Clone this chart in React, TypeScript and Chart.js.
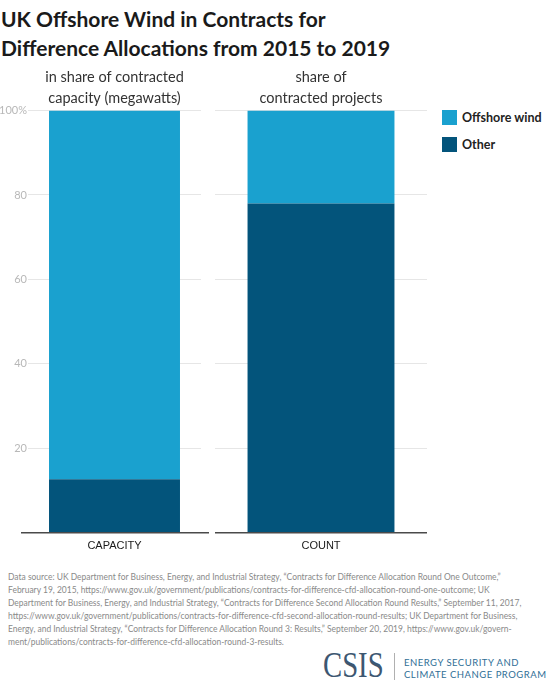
import React, { useEffect, useRef } from 'react';
import { Chart, registerables } from 'chart.js';

Chart.register(...registerables);

// data
const categories = ['CAPACITY', 'COUNT'];
const panelTitles = [
  ['in share of contracted', 'capacity (megawatts)'],
  ['share of', 'contracted projects'],
];
const otherShare = [12.7, 78];
const offshoreShare = [87.3, 22];
const seriesNames = ['Offshore wind', 'Other'];

const OFFSHORE = '#1aa1cf';
const OTHER = '#03547b';
const FONT = 'Lato, "Open Sans", sans-serif';

const footnote = [
  'Data source: UK Department for Business, Energy, and Industrial Strategy, \u201cContracts for Difference Allocation Round One Outcome,\u201d',
  'February 19, 2015, https://www.gov.uk/government/publications/contracts-for-difference-cfd-allocation-round-one-outcome; UK',
  'Department for Business, Energy, and Industrial Strategy, \u201cContracts for Difference Second Allocation Round Results,\u201d September 11, 2017,',
  'https://www.gov.uk/government/publications/contracts-for-difference-cfd-second-allocation-round-results; UK Department for Business,',
  'Energy, and Industrial Strategy, \u201cContracts for Difference Allocation Round 3: Results,\u201d September 20, 2019, https://www.gov.uk/govern-',
  'ment/publications/contracts-for-difference-cfd-allocation-round-3-results.',
];

interface PanelProps {
  index: number;
  showAxis: boolean;
  barPct: number;
  extendLeft: number;
  extendRight: number;
  padRight: number;
  style: React.CSSProperties;
}

function Panel(props: PanelProps) {
  const canvasRef = useRef<HTMLCanvasElement | null>(null);

  useEffect(() => {
    const canvas = canvasRef.current;
    if (!canvas) return;
    const i = props.index;

    // baseline, a little longer than the gridlines on the left panel
    const baseline = {
      id: 'baseline',
      afterDatasetsDraw(chart: any) {
        const { ctx, chartArea, scales } = chart;
        const y = scales.y.getPixelForValue(0);
        ctx.save();
        ctx.strokeStyle = '#4a4a4a';
        ctx.lineWidth = 1.5;
        ctx.beginPath();
        ctx.moveTo(chartArea.left - props.extendLeft, y);
        ctx.lineTo(chartArea.right + props.extendRight, y);
        ctx.stroke();
        ctx.restore();
      },
    };

    const chart = new Chart(canvas, {
      type: 'bar',
      data: {
        labels: [categories[i]],
        datasets: [
          {
            label: seriesNames[1],
            data: [otherShare[i]],
            backgroundColor: OTHER,
            borderWidth: 0,
            categoryPercentage: 1,
            barPercentage: props.barPct,
          },
          {
            label: seriesNames[0],
            data: [offshoreShare[i]],
            backgroundColor: OFFSHORE,
            borderWidth: 0,
            categoryPercentage: 1,
            barPercentage: props.barPct,
          },
        ],
      },
      options: {
        animation: false,
        responsive: true,
        maintainAspectRatio: false,
        layout: { padding: { right: props.padRight } },
        plugins: {
          legend: { display: false },
          tooltip: { enabled: false },
          title: {
            display: true,
            text: panelTitles[i],
            fullSize: false,
            color: '#333',
            font: { family: FONT, size: 14.5, weight: 'normal', lineHeight: 1.45 },
            padding: { top: 0, bottom: 1.5 },
          },
        },
        scales: {
          x: {
            stacked: true,
            grid: { display: false, drawTicks: false },
            border: { display: false },
            ticks: {
              color: '#1a1a1a',
              padding: 7,
              font: { family: '"Liberation Sans", Arial, sans-serif', size: 11 },
            },
          },
          y: {
            stacked: true,
            min: 0,
            max: 100,
            grid: {
              color: (c: any) => (c.tick && c.tick.value === 0 ? 'rgba(0,0,0,0)' : '#e6e6e6'),
              lineWidth: 1,
              drawTicks: false,
            },
            border: { display: false },
            ticks: {
              display: props.showAxis,
              stepSize: 20,
              padding: 1,
              color: '#b8b8b8',
              font: { family: FONT, size: 11 },
              callback: (v: any) => (v === 0 ? '' : v === 100 ? '100%' : String(v)),
            },
            afterFit: (scale: any) => {
              scale.width = props.showAxis ? 28 : 0;
            },
          },
        },
      },
      plugins: [baseline],
    });

    return () => {
      chart.destroy();
    };
  }, []);

  return (
    <div style={{ position: 'absolute', ...props.style }}>
      <canvas ref={canvasRef}></canvas>
    </div>
  );
}

export default function App() {
  return (
    <div
      style={{
        position: 'absolute',
        left: 0,
        top: 0,
        width: 549,
        height: 692,
        background: '#fff',
        fontFamily: FONT,
        overflow: 'hidden',
      }}
    >
      <div
        style={{
          position: 'absolute',
          left: 1,
          top: 4,
          fontSize: 21,
          fontWeight: 700,
          lineHeight: '29px',
          color: '#1a1a1a',
          whiteSpace: 'nowrap',
        }}
      >
        UK Offshore Wind in Contracts for
        <br />
        Difference Allocations from 2015 to 2019
      </div>

      <Panel
        index={0}
        showAxis={true}
        barPct={0.757}
        extendLeft={7}
        extendRight={8}
        padRight={8}
        style={{ left: 0, top: 67, width: 209, height: 493 }}
      />
      <Panel
        index={1}
        showAxis={false}
        barPct={0.693}
        extendLeft={0}
        extendRight={0}
        padRight={0}
        style={{ left: 215, top: 67, width: 212, height: 493 }}
      />

      {seriesNames.map((name, k) => (
        <div key={name} style={{ position: 'absolute', left: 442, top: 110 + k * 27, height: 15, display: 'flex', alignItems: 'center' }}>
          <div style={{ width: 15, height: 15, background: k === 0 ? OFFSHORE : OTHER }} />
          <div style={{ marginLeft: 5, fontSize: 12.5, fontWeight: 700, color: '#222', whiteSpace: 'nowrap' }}>{name}</div>
        </div>
      ))}

      <div
        style={{
          position: 'absolute',
          left: 8,
          top: 570,
          fontSize: 9,
          lineHeight: '13px',
          color: '#8a8a8a',
          whiteSpace: 'nowrap',
          transform: 'scaleX(0.94)',
          transformOrigin: 'left top',
        }}
      >
        {footnote.map((line) => (
          <div key={line}>{line}</div>
        ))}
      </div>

      <div
        style={{
          position: 'absolute',
          left: 323,
          top: 648,
          fontFamily: '"Liberation Serif", "DejaVu Serif", serif',
          fontSize: 35,
          lineHeight: '35px',
          color: '#3d5771',
          transform: 'scaleX(0.82)',
          transformOrigin: 'left top',
        }}
      >
        CSIS
      </div>
      <div style={{ position: 'absolute', left: 394, top: 653, width: 1, height: 27, background: '#b0b0b0' }} />
      <div
        style={{
          position: 'absolute',
          left: 404,
          top: 657,
          fontSize: 9.5,
          lineHeight: '12px',
          letterSpacing: 0.5,
          color: '#2f6e96',
          whiteSpace: 'nowrap',
        }}
      >
        ENERGY SECURITY AND
        <br />
        CLIMATE CHANGE PROGRAM
      </div>
    </div>
  );
}
